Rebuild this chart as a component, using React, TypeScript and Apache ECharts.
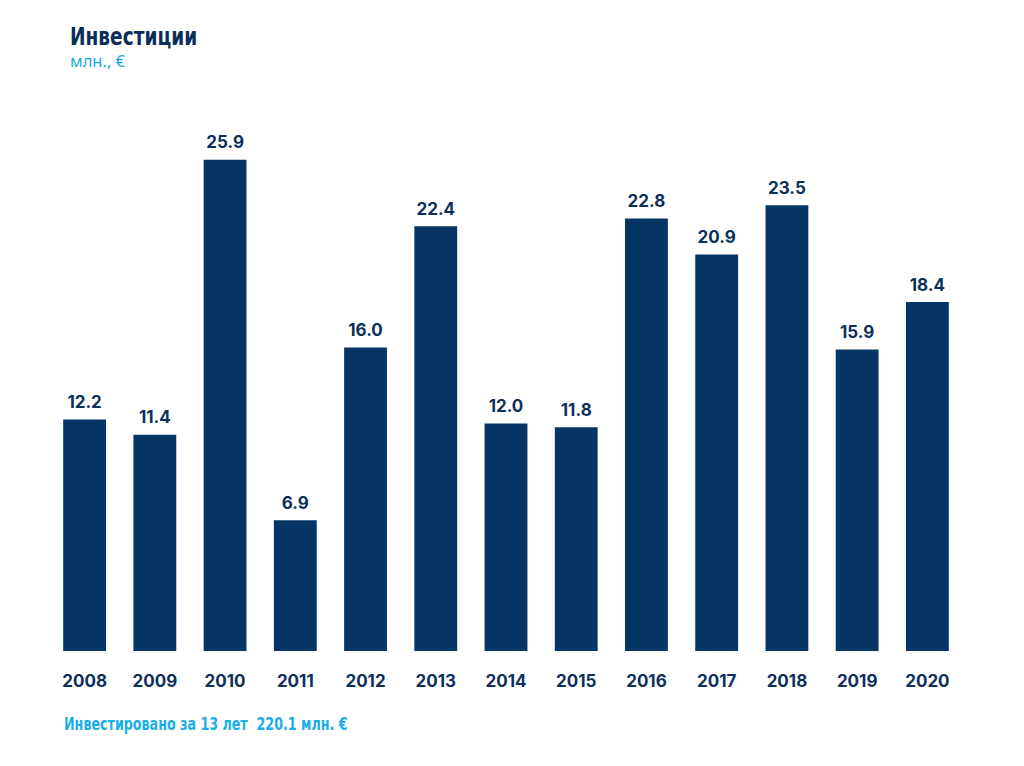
import React, { useEffect, useRef } from "react";
import * as echarts from "echarts";

const years = ["2008", "2009", "2010", "2011", "2012", "2013", "2014", "2015", "2016", "2017", "2018", "2019", "2020"];
const investments = [12.2, 11.4, 25.9, 6.9, 16.0, 22.4, 12.0, 11.8, 22.8, 20.9, 23.5, 15.9, 18.4];
const titleText = "Инвестиции";
const subtitleText = "млн., €";
const footerText = "Инвестировано за 13 лет  220.1 млн. €";

const condensed = "'Liberation Sans Narrow', 'DejaVu Sans Condensed', Roboto, sans-serif";

export default function App() {
  const ref = useRef<HTMLDivElement>(null);
  useEffect(() => {
    if (!ref.current) return;
    const chart = echarts.init(ref.current, null, { renderer: "svg" });
    chart.setOption({
      animation: false,
      backgroundColor: "#ffffff",
      graphic: [
        {
          type: "text",
          x: 70,
          y: 24,
          scaleX: 0.86,
          style: {
            text: titleText,
            fontFamily: condensed,
            fontWeight: "bold",
            fontSize: 24,
            fill: "#0a2d5a",
            textVerticalAlign: "top",
          },
        },
        {
          type: "text",
          x: 70,
          y: 52,
          style: {
            text: subtitleText,
            fontFamily: "Noto Sans",
            fontSize: 16.5,
            fill: "#1aa9e6",
            textVerticalAlign: "top",
          },
        },
        {
          type: "text",
          x: 64,
          y: 716,
          scaleX: 0.83,
          style: {
            text: footerText,
            fontFamily: condensed,
            fontWeight: "bold",
            fontSize: 17,
            fill: "#1aaee8",
            textVerticalAlign: "top",
          },
        },
      ],
      grid: { left: 49.5, right: 1024 - 962.5, top: 82, bottom: 115, containLabel: false },
      xAxis: {
        type: "category",
        data: years,
        axisLine: { show: false },
        axisTick: { show: false },
        axisLabel: {
          margin: 21,
          fontFamily: "Inter",
          fontWeight: "bold",
          fontSize: 17,
          color: "#0c2f5c",
        },
      },
      yAxis: {
        type: "value",
        min: 0,
        max: 30,
        show: false,
        splitLine: { show: false },
      },
      series: [
        {
          type: "bar",
          data: investments,
          barWidth: "61%",
          itemStyle: { color: "#043565" },
          label: {
            show: true,
            position: "top",
            distance: 9,
            formatter: (p: any) => p.value.toFixed(1),
            fontFamily: "Inter",
            fontWeight: "bold",
            fontSize: 17,
            color: "#0c2f5c",
          },
        },
      ],
    });
    return () => chart.dispose();
  }, []);
  return <div ref={ref} style={{ position: "fixed", left: 0, top: 0, width: 1024, height: 766 }} />;
}
